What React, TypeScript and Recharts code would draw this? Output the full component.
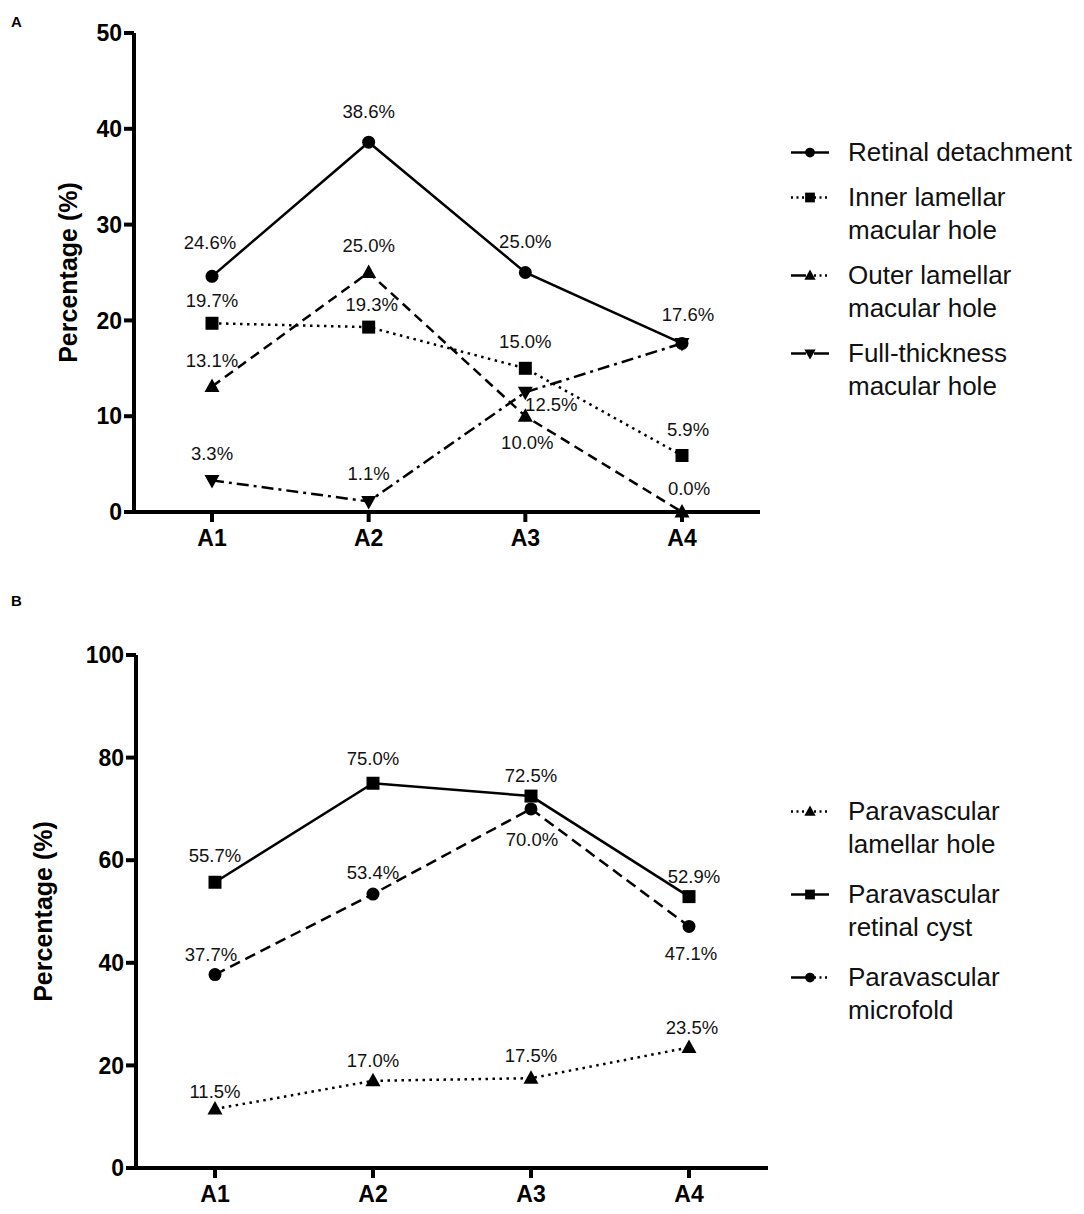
import React from 'react'
import { LineChart, Line, XAxis, YAxis, Legend, Label } from 'recharts'

const categories = ['A1', 'A2', 'A3', 'A4']

// panel A
const retinalDetachment = [24.6, 38.6, 25.0, 17.6]
const innerLamellar = [19.7, 19.3, 15.0, 5.9]
const outerLamellar = [13.1, 25.0, 10.0, 0.0]
const fullThickness = [3.3, 1.1, 12.5, 17.6]
const ticksA = [0, 10, 20, 30, 40, 50]

// panel B
const pvLamellarHole = [11.5, 17.0, 17.5, 23.5]
const pvRetinalCyst = [55.7, 75.0, 72.5, 52.9]
const pvMicrofold = [37.7, 53.4, 70.0, 47.1]
const ticksB = [0, 20, 40, 60, 80, 100]

const dataA = categories.map((c, i) => ({
  cat: c,
  rd: retinalDetachment[i],
  il: innerLamellar[i],
  ol: outerLamellar[i],
  ft: fullThickness[i],
}))

const dataB = categories.map((c, i) => ({
  cat: c,
  lh: pvLamellarHole[i],
  rc: pvRetinalCyst[i],
  mf: pvMicrofold[i],
}))

// label offsets [dx, dy] from each point, null = no label
const labelPosA: Record<string, ([number, number] | null)[]> = {
  rd: [[-2, -34], [0, -31], [0, -31], [6, -29]],
  il: [[0, -23], [3, -23], [0, -27], [6, -26]],
  ol: [[0, -26], [0, -27], [2, 26], [7, -24]],
  ft: [[0, -27], [0, -28], [26, 12], null],
}

const labelPosB: Record<string, ([number, number] | null)[]> = {
  lh: [[0, -18], [0, -20], [0, -23], [3, -20]],
  rc: [[0, -27], [0, -25], [0, -21], [5, -20]],
  mf: [[-4, -20], [0, -22], [1, 31], [2, 27]],
}

const FONT = '"Liberation Sans", Arial, Helvetica, sans-serif'

const makeLabel = (pos: ([number, number] | null)[]) => (props: any) => {
  const { x, y, value, index } = props
  const p = pos[index]
  if (!p || value == null) return null
  return (
    <text
      key={`lbl-${index}`}
      x={x + p[0]}
      y={y + p[1]}
      textAnchor="middle"
      dominantBaseline="central"
      fontSize={18.5}
      fontFamily={FONT}
      fill="#111"
    >
      {Number(value).toFixed(1)}%
    </text>
  )
}

function Marker({ shape, cx, cy, s = 1 }: { shape: string; cx: number; cy: number; s?: number }) {
  if (shape === 'circle') return <circle cx={cx} cy={cy} r={6.5 * s} fill="#000" />
  if (shape === 'square')
    return <rect x={cx - 6.5 * s} y={cy - 6.5 * s} width={13 * s} height={13 * s} fill="#000" />
  if (shape === 'up')
    return (
      <path
        d={`M${cx},${cy - 8 * s} L${cx + 7.5 * s},${cy + 5.5 * s} L${cx - 7.5 * s},${cy + 5.5 * s} Z`}
        fill="#000"
      />
    )
  return (
    <path
      d={`M${cx},${cy + 8 * s} L${cx + 7.5 * s},${cy - 5.5 * s} L${cx - 7.5 * s},${cy - 5.5 * s} Z`}
      fill="#000"
    />
  )
}

const makeDot = (shape: string) => (props: any) => {
  const { cx, cy, index } = props
  if (cx == null || cy == null) return <g key={`d-${index}`} />
  return (
    <g key={`d-${index}`}>
      <Marker shape={shape} cx={cx} cy={cy} />
    </g>
  )
}

interface LegendItem {
  lines: string[]
  shape: string
  left: string
  right: string
}

const legendA: LegendItem[] = [
  { lines: ['Retinal detachment'], shape: 'circle', left: 'solid', right: 'solid' },
  { lines: ['Inner lamellar', 'macular hole'], shape: 'square', left: 'dot', right: 'dot' },
  { lines: ['Outer lamellar', 'macular hole'], shape: 'up', left: 'solid', right: 'dot' },
  { lines: ['Full-thickness', 'macular hole'], shape: 'down', left: 'solid', right: 'solid' },
]

const legendB: LegendItem[] = [
  { lines: ['Paravascular', 'lamellar hole'], shape: 'up', left: 'dot', right: 'dot' },
  { lines: ['Paravascular', 'retinal cyst'], shape: 'square', left: 'solid', right: 'solid' },
  { lines: ['Paravascular', 'microfold'], shape: 'circle', left: 'solid', right: 'dot' },
]

function LegendIcon({ item }: { item: LegendItem }) {
  const dash = (k: string) => (k === 'dot' ? '2 3.5' : undefined)
  return (
    <svg width={40} height={33} style={{ flex: 'none' }}>
      <line x1={1} y1={16.5} x2={16} y2={16.5} stroke="#000" strokeWidth={2.5} strokeDasharray={dash(item.left)} />
      <line x1={24} y1={16.5} x2={39} y2={16.5} stroke="#000" strokeWidth={2.5} strokeDasharray={dash(item.right)} />
      <Marker shape={item.shape} cx={20} cy={16.5} s={0.75} />
    </svg>
  )
}

const makeLegend = (items: LegendItem[], gap: number) => () => (
  <div style={{ fontFamily: FONT, color: '#111' }}>
    {items.map((it, i) => (
      <div key={i} style={{ display: 'flex', alignItems: 'flex-start', marginBottom: gap }}>
        <LegendIcon item={it} />
        <div style={{ marginLeft: 18, fontSize: 26, lineHeight: '33px', whiteSpace: 'nowrap' }}>
          {it.lines.map((l, j) => (
            <div key={j}>{l}</div>
          ))}
        </div>
      </div>
    ))}
  </div>
)

const yTitle = (cx: number) => (props: any) => {
  const { viewBox } = props
  const cy = viewBox.y + viewBox.height / 2
  return (
    <text
      x={cx}
      y={cy}
      transform={`rotate(-90 ${cx} ${cy})`}
      textAnchor="middle"
      dominantBaseline="central"
      fontSize={25}
      fontWeight="bold"
      fontFamily={FONT}
      fill="#000"
    >
      Percentage (%)
    </text>
  )
}

const axisLine = { stroke: '#000', strokeWidth: 4 }
const tickStyle = { fill: '#000', fontSize: 23, fontWeight: 'bold', fontFamily: FONT }

export default function App() {
  return (
    <div
      style={{
        position: 'absolute',
        left: 0,
        top: 0,
        width: 1084,
        height: 1214,
        background: '#fff',
        fontFamily: FONT,
      }}
    >
      <div style={{ position: 'absolute', left: 11, top: 13, fontSize: 15, fontWeight: 'bold' }}>A</div>
      <div style={{ position: 'absolute', left: 11, top: 592, fontSize: 15, fontWeight: 'bold' }}>B</div>

      <div style={{ position: 'absolute', left: 0, top: 0 }}>
        <LineChart width={1084} height={590} data={dataA} margin={{ top: 33, right: 324, bottom: 38, left: 0 }}>
          <XAxis
            dataKey="cat"
            axisLine={axisLine}
            tickLine={axisLine}
            tickSize={10}
            tickMargin={8}
            tick={tickStyle}
            height={40}
            interval={0}
            padding={{ left: 78, right: 78 }}
          />
          <YAxis
            domain={[0, 50]}
            ticks={ticksA}
            axisLine={axisLine}
            tickLine={axisLine}
            tickSize={10}
            tick={tickStyle}
            width={134}
            interval={0}
          >
            <Label content={yTitle(68)} />
          </YAxis>
          <Legend
            layout="horizontal"
            verticalAlign="middle"
            align="center"
            content={makeLegend(legendA, 12)}
            wrapperStyle={{ left: 790, top: 136, width: 294 }}
          />
          <Line
            dataKey="ft"
            stroke="#000"
            strokeWidth={2.5}
            strokeDasharray="12 5 3 5"
            dot={makeDot('down')}
            label={makeLabel(labelPosA.ft)}
            isAnimationActive={false}
          />
          <Line
            dataKey="ol"
            stroke="#000"
            strokeWidth={2.5}
            strokeDasharray="10 6"
            dot={makeDot('up')}
            label={makeLabel(labelPosA.ol)}
            isAnimationActive={false}
          />
          <Line
            dataKey="il"
            stroke="#000"
            strokeWidth={2.5}
            strokeDasharray="2.5 4.5"
            dot={makeDot('square')}
            label={makeLabel(labelPosA.il)}
            isAnimationActive={false}
          />
          <Line
            dataKey="rd"
            stroke="#000"
            strokeWidth={2.5}
            dot={makeDot('circle')}
            label={makeLabel(labelPosA.rd)}
            isAnimationActive={false}
          />
        </LineChart>
      </div>

      <div style={{ position: 'absolute', left: 0, top: 590 }}>
        <LineChart width={1084} height={624} data={dataB} margin={{ top: 65, right: 316, bottom: 6, left: 0 }}>
          <XAxis
            dataKey="cat"
            axisLine={axisLine}
            tickLine={axisLine}
            tickSize={10}
            tickMargin={8}
            tick={tickStyle}
            height={40}
            interval={0}
            padding={{ left: 79, right: 79 }}
          />
          <YAxis
            domain={[0, 100]}
            ticks={ticksB}
            axisLine={axisLine}
            tickLine={axisLine}
            tickSize={10}
            tick={tickStyle}
            width={136}
            interval={0}
          >
            <Label content={yTitle(43)} />
          </YAxis>
          <Legend
            layout="horizontal"
            verticalAlign="middle"
            align="center"
            content={makeLegend(legendB, 17)}
            wrapperStyle={{ left: 790, top: 205, width: 294 }}
          />
          <Line
            dataKey="lh"
            stroke="#000"
            strokeWidth={2.5}
            strokeDasharray="2.5 4.5"
            dot={makeDot('up')}
            label={makeLabel(labelPosB.lh)}
            isAnimationActive={false}
          />
          <Line
            dataKey="mf"
            stroke="#000"
            strokeWidth={2.5}
            strokeDasharray="11 6"
            dot={makeDot('circle')}
            label={makeLabel(labelPosB.mf)}
            isAnimationActive={false}
          />
          <Line
            dataKey="rc"
            stroke="#000"
            strokeWidth={2.5}
            dot={makeDot('square')}
            label={makeLabel(labelPosB.rc)}
            isAnimationActive={false}
          />
        </LineChart>
      </div>
    </div>
  )
}
